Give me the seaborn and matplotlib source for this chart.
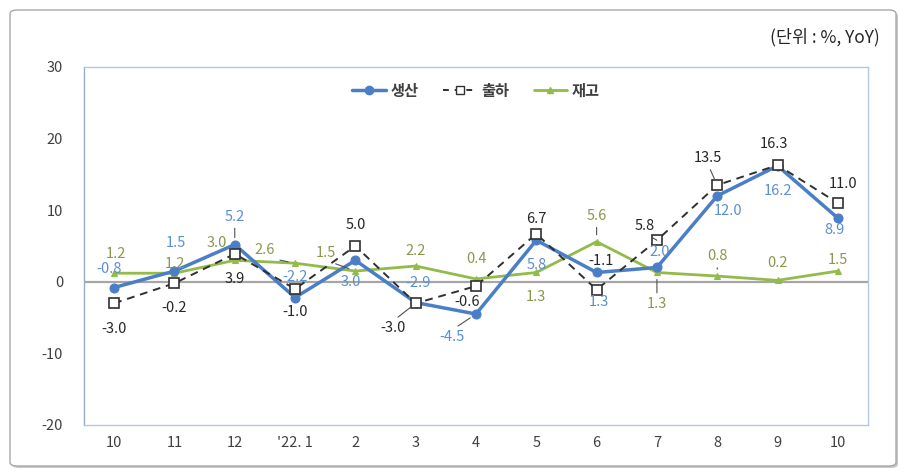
import numpy as np
import pandas as pd
import seaborn as sns
import matplotlib.pyplot as plt
from matplotlib.patches import FancyBboxPatch
from matplotlib.lines import Line2D

# 데이터 (전년동월대비 %)
months = ["10", "11", "12", "'22. 1", "2", "3", "4", "5", "6", "7", "8", "9", "10"]
production = [-0.8, 1.5, 5.2, -2.2, 3.0, -2.9, -4.5, 5.8, 1.3, 2.0, 12.0, 16.2, 8.9]
shipment = [-3.0, -0.2, 3.9, -1.0, 5.0, -3.0, -0.6, 6.7, -1.1, 5.8, 13.5, 16.3, 11.0]
inventory = [1.2, 1.2, 3.0, 2.6, 1.5, 2.2, 0.4, 1.3, 5.6, 1.3, 0.8, 0.2, 1.5]

df = pd.DataFrame({"x": range(len(months)), "생산": production,
                   "출하": shipment, "재고": inventory})

# 라벨 위치 (pixel offset from point)
prod_off = [(-5, 19), (1, 28), (0, 28), (0, 21), (-5, -22), (2, 20), (-24, -23),
            (0, -25), (2, -30), (3, 15), (11, -15), (0, -25), (-3, -12)]
ship_off = [(0, -26), (0, -25), (0, -25), (0, -23), (0, 21), (-23, -25), (-9, -16),
            (0, 15), (4, 29), (-12, 14), (-9, 27), (-4, 21), (5, 19)]
inv_off = [(2, 19), (0, 9), (-18, 17), (-30, 13), (-30, 18), (0, 15), (0, 20),
           (0, -25), (0, 26), (0, -32), (0, 20), (0, 17), (0, 11)]
prod_lead = [2, 6]
ship_lead = [5, 9, 10]
inv_lead = [3, 4, 8, 9, 10]

c_prod = "#4A7EC7"
c_ship = "#303030"
c_inv = "#92BB4A"
t_prod = "#5B8FD0"
t_ship = "#262626"
t_inv = "#8C964E"

sns.set_style("white")
plt.rcParams["font.family"] = ["Noto Sans CJK KR", "DejaVu Sans"]
plt.rcParams["axes.unicode_minus"] = False

fig = plt.figure(figsize=(9.07, 4.76), dpi=100)

# 바깥 테두리 박스
shadow = FancyBboxPatch((12 / 907, 8 / 476), 886 / 907, 456 / 476,
                        boxstyle="round,pad=0,rounding_size=0.008",
                        transform=fig.transFigure, facecolor="#C8C8C8",
                        edgecolor="none", zorder=-2)
box = FancyBboxPatch((10 / 907, 10 / 476), 886 / 907, 456 / 476,
                     boxstyle="round,pad=0,rounding_size=0.008",
                     transform=fig.transFigure, facecolor="white",
                     edgecolor="#A8A8A8", lw=1, zorder=-1)
fig.patches.extend([shadow, box])

ax = fig.add_axes([84 / 907, 51 / 476, 784 / 907, 358 / 476])
ax.set_zorder(1)
ax.set_facecolor("none")

ax.axhline(0, color="#A6A6A6", lw=1.6, zorder=1)

sns.lineplot(data=df, x="x", y="재고", ax=ax, color=c_inv, lw=2, marker="^",
             markersize=4.5, markeredgecolor=c_inv, zorder=2)
sns.lineplot(data=df, x="x", y="생산", ax=ax, color=c_prod, lw=2.5, marker="o",
             markersize=6.5, markeredgecolor=c_prod, zorder=3)
sns.lineplot(data=df, x="x", y="출하", ax=ax, color=c_ship, lw=1.4,
             linestyle=(0, (4, 3)), marker="s", markersize=6.5,
             markerfacecolor="white", markeredgecolor=c_ship,
             markeredgewidth=1.2, zorder=4)


def put_labels(vals, offs, leads, color):
    for i, (v, (dx, dy)) in enumerate(zip(vals, offs)):
        props = None
        if i in leads:
            props = dict(arrowstyle="-", color="#505050", lw=0.8,
                         shrinkA=1, shrinkB=5,
                         relpos=(0.5, 0.0) if dy > 0 else (0.5, 1.0))
        ax.annotate(f"{v:.1f}", (i, v), xytext=(dx, dy),
                    textcoords="offset pixels", ha="center", va="center",
                    fontsize=10.5, color=color, arrowprops=props, zorder=6)


put_labels(production, prod_off, prod_lead, t_prod)
put_labels(shipment, ship_off, ship_lead, t_ship)
put_labels(inventory, inv_off, inv_lead, t_inv)

ax.set_xlim(-0.5, len(months) - 0.5)
ax.set_ylim(-20, 30)
ax.set_yticks([-20, -10, 0, 10, 20, 30])
ax.set_xticks(range(len(months)))
ax.set_xticklabels(months)
ax.set_xlabel("")
ax.set_ylabel("")
ax.tick_params(axis="x", length=0, pad=8, labelsize=10.5, labelcolor="#404040")
ax.tick_params(axis="y", direction="in", length=3, color="#A6BDDB", pad=15,
               labelsize=10.5, labelcolor="#404040")
for s in ax.spines.values():
    s.set_color("#B4C8E4")
    s.set_linewidth(1)
ax.spines["left"].set_color("#9AAAC0")

handles = [
    Line2D([], [], color=c_prod, lw=2.5, marker="o", markersize=6),
    Line2D([], [], color=c_ship, lw=1.4, linestyle=(0, (3, 3)), marker="s",
           markersize=6, markerfacecolor="white"),
    Line2D([], [], color=c_inv, lw=2, marker="^", markersize=4.5),
]
leg = ax.legend(handles, ["생산", "출하", "재고"], loc="upper center",
                bbox_to_anchor=(0.5, 0.995), ncol=3, frameon=False,
                handlelength=2.2, handletextpad=0.3, columnspacing=1.6,
                prop={"size": 11, "weight": "bold"})
for t in leg.get_texts():
    t.set_color("#404040")

fig.text(880 / 907, 1 - 37 / 476, "(단위 : %, YoY)", ha="right", va="center",
         fontsize=12.5, color="#262626")

fig.savefig("out.png", dpi=100)
